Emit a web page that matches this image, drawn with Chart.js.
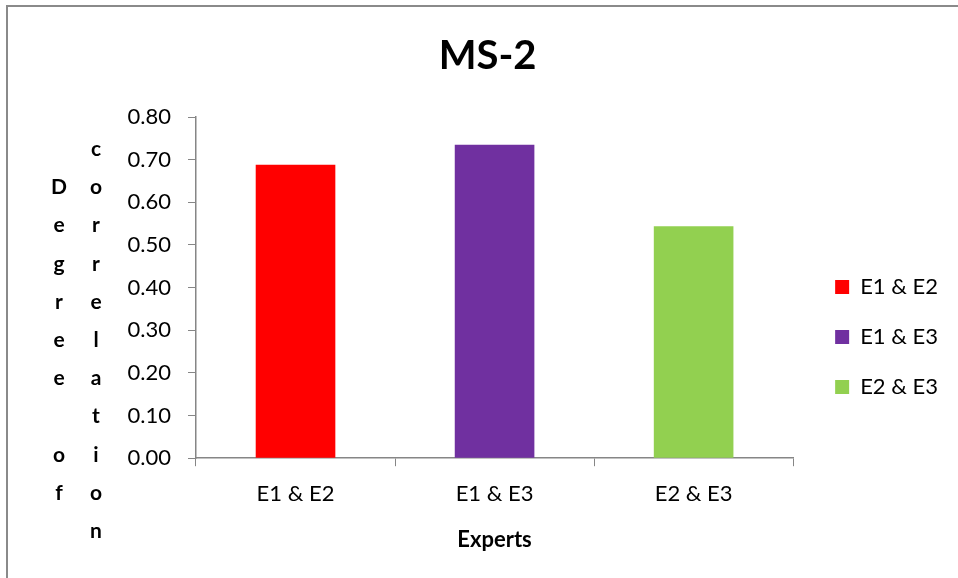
<!DOCTYPE html>
<html>
<head>
<meta charset="utf-8">
<script src="https://cdn.jsdelivr.net/npm/chart.js@4"></script>
<style>
  html, body { margin: 0; padding: 0; background: #fff; }
  #wrap { position: relative; width: 958px; height: 578px; overflow: hidden; }
  #frame { position: absolute; left: 6px; top: 5px; width: 970px; height: 600px;
           border-left: 2px solid #8a8a8a; border-top: 2px solid #8a8a8a; }
  canvas { position: absolute; left: 0; top: 0; }
</style>
</head>
<body>
<div id="wrap">
  <div id="frame"></div>
  <canvas id="chart" width="958" height="578"></canvas>
</div>
<script>
// Correlation between expert pairs
const categories = ['E1 & E2', 'E1 & E3', 'E2 & E3'];
const correlation = [0.688, 0.735, 0.544];
const yTicks = [0.0, 0.1, 0.2, 0.3, 0.4, 0.5, 0.6, 0.7, 0.8];
const yTitleLines = ['Degree of', 'correlation'];
const xTitle = 'Experts';
const chartTitle = 'MS-2';

const barColors = ['#FF0000', '#7030A0', '#92D050'];
const axisGray = '#868686';
const FONT = 'Lato, "Open Sans", sans-serif';

Chart.defaults.font.family = FONT;
Chart.defaults.color = '#000';

// Legend geometry: key box, label size and spacing
const LEGEND_BOX = 14;
const LEGEND_FONT = 22;
const LEGEND_PAD = 28;
const PLOT_RIGHT = 793;

// Width the legend block will claim, so the plot keeps its right edge
const measureCtx = document.createElement('canvas').getContext('2d');
measureCtx.font = LEGEND_FONT + 'px ' + FONT;
const widestLabel = Math.max(...categories.map(c => measureCtx.measureText(c).width));
const legendWidth = LEGEND_PAD + LEGEND_BOX + LEGEND_FONT / 2 + widestLabel + 10;
const rightPad = Math.max(0, Math.round(958 - PLOT_RIGHT - legendWidth));

// Stacked letter-by-letter y-axis caption, one column per line
const stackedYTitle = {
  id: 'stackedYTitle',
  afterDraw(chart) {
    const {ctx, chartArea} = chart;
    const step = 38.2;
    const midBaseline = chartArea.top + 230;
    const colX = [chartArea.left - 137, chartArea.left - 100];
    ctx.save();
    ctx.font = 'bold 21px ' + FONT;
    ctx.fillStyle = '#000';
    ctx.textAlign = 'center';
    ctx.textBaseline = 'alphabetic';
    yTitleLines.forEach((line, c) => {
      const chars = Array.from(line);
      const n = chars.length;
      chars.forEach((ch, i) => {
        if (ch === ' ') return;
        ctx.fillText(ch, colX[c], midBaseline + (i - (n - 1) / 2) * step);
      });
    });
    ctx.restore();
  }
};

// Place the legend keys a fixed gap right of the plot, lower down,
// and centre the title slightly left of the plot centre
const blockPlacement = {
  id: 'blockPlacement',
  afterLayout(chart) {
    const area = chart.chartArea;
    const lg = chart.legend;
    if (lg) {
      const dx = area.right + 42 - (lg.left + lg.options.labels.padding);
      const dy = 48;
      lg.left += dx; lg.right += dx;
      lg.top += dy; lg.bottom += dy;
    }
    const tb = chart.titleBlock;
    if (tb) {
      const want = (area.left + area.right) / 2 - 7;
      const dx = want - (tb.left + tb.right) / 2;
      tb.left += dx; tb.right += dx;
    }
  }
};

new Chart(document.getElementById('chart'), {
  type: 'bar',
  data: {
    labels: categories,
    datasets: [{
      data: correlation,
      backgroundColor: barColors,
      borderWidth: 0,
      categoryPercentage: 1.0,
      barPercentage: 0.4
    }]
  },
  options: {
    responsive: false,
    animation: false,
    layout: { padding: { left: 124, right: rightPad, top: 0, bottom: 0 } },
    plugins: {
      title: {
        display: true,
        text: chartTitle,
        color: '#000',
        font: { size: 40, weight: 'bold' },
        padding: { top: 32, bottom: 37 }
      },
      legend: {
        display: true,
        position: 'right',
        align: 'center',
        labels: {
          boxWidth: LEGEND_BOX,
          boxHeight: LEGEND_BOX,
          padding: LEGEND_PAD,
          color: '#000',
          font: { size: LEGEND_FONT },
          generateLabels: () => categories.map((c, i) => ({
            text: c,
            fillStyle: barColors[i],
            strokeStyle: barColors[i],
            lineWidth: 0,
            hidden: false,
            index: i
          }))
        }
      },
      tooltip: { enabled: false }
    },
    scales: {
      x: {
        grid: {
          display: true,
          offset: true,
          drawOnChartArea: false,
          drawTicks: true,
          tickLength: 8,
          color: axisGray
        },
        border: { display: true, color: axisGray, width: 1.5 },
        ticks: { color: '#000', font: { size: 22 }, padding: 15 },
        title: {
          display: true,
          text: xTitle,
          color: '#000',
          font: { size: 22, weight: 'bold' },
          padding: { top: 4, bottom: 25 }
        }
      },
      y: {
        min: 0,
        max: 0.8,
        afterFit(scale) { scale.width = 72; },
        afterBuildTicks(scale) { scale.ticks = yTicks.map(v => ({ value: v })); },
        grid: {
          display: true,
          drawOnChartArea: false,
          drawTicks: true,
          tickLength: 8,
          color: axisGray
        },
        border: { display: true, color: axisGray, width: 1.5 },
        ticks: {
          color: '#000',
          font: { size: 22 },
          padding: 17,
          callback: v => Number(v).toFixed(2)
        }
      }
    }
  },
  plugins: [stackedYTitle, blockPlacement]
});
</script>
</body>
</html>
